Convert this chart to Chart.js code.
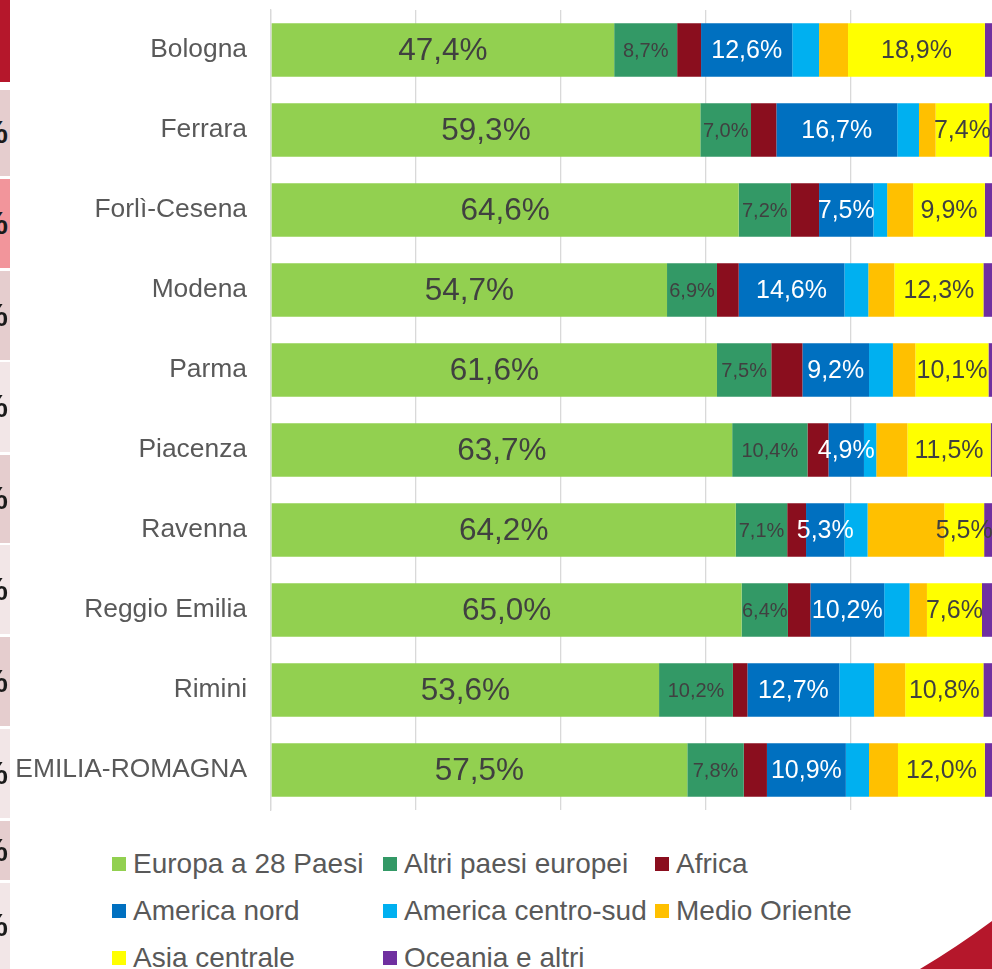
<!DOCTYPE html>
<html>
<head>
<meta charset="utf-8">
<script src="https://cdn.jsdelivr.net/npm/chart.js@4/dist/chart.umd.min.js"></script>
<style>
  html, body { margin: 0; padding: 0; background: #fff; overflow: hidden; width: 992px; height: 969px; }
  body { position: relative; font-family: "Liberation Sans", Arial, sans-serif; }
  #wrap { position: absolute; left: 0; top: 0; width: 1000px; height: 820px; }
  .strip { position: absolute; left: 0; width: 10px; overflow: hidden; }
  .strip span { position: absolute; right: 2px; top: 50%; transform: translateY(-52%); font: bold 32px "Liberation Sans", Arial, sans-serif; color: #1a1a1a; }
  #legend { position: absolute; left: 112px; top: 840px; display: grid; grid-template-columns: 271px 272px auto; grid-auto-rows: 47px; }
  .item { display: flex; align-items: center; color: #595959; font-size: 28px; white-space: nowrap; }
  .item i { display: inline-block; width: 14px; height: 14px; margin-right: 7px; }
  #corner { position: absolute; right: 0; bottom: 0; }
</style>
</head>
<body>
<div id="wrap"><canvas id="chart" width="1000" height="820"></canvas></div>
<div id="strips"></div>
<div id="legend"></div>
<svg id="corner" width="80" height="52" viewBox="0 0 80 52"><path d="M8,52 Q45,30 80,4 L80,52 Z" fill="#B5172B"/></svg>
<script>
// provinces
const categories = ["Bologna", "Ferrara", "Forlì-Cesena", "Modena", "Parma", "Piacenza",
  "Ravenna", "Reggio Emilia", "Rimini", "EMILIA-ROMAGNA"]

// share of each area (%)
const europa28   = [47.4, 59.3, 64.6, 54.7, 61.6, 63.7, 64.2, 65.0, 53.6, 57.5]
const altriEuropa = [8.7, 7.0, 7.2, 6.9, 7.5, 10.4, 7.1, 6.4, 10.2, 7.8]
const africa     = [3.3, 3.5, 3.9, 3.0, 4.3, 2.9, 2.6, 3.1, 2.0, 3.2]
const americaNord = [12.6, 16.7, 7.5, 14.6, 9.2, 4.9, 5.3, 10.2, 12.7, 10.9]
const americaSud = [3.7, 3.0, 1.9, 3.3, 3.3, 1.7, 3.2, 3.5, 4.8, 3.2]
const medioOriente = [4.0, 2.3, 3.6, 3.6, 3.1, 4.3, 10.6, 2.4, 4.3, 4.0]
const asiaCentrale = [18.9, 7.4, 9.9, 12.3, 10.1, 11.5, 5.5, 7.6, 10.8, 12.0]
const oceania    = [1.4, 0.8, 1.4, 1.6, 0.9, 0.6, 1.5, 1.8, 1.6, 1.4]

const seriesNames = ["Europa a 28 Paesi", "Altri paesi europei", "Africa", "America nord",
  "America centro-sud", "Medio Oriente", "Asia centrale", "Oceania e altri"]
const seriesValues = [europa28, altriEuropa, africa, americaNord, americaSud, medioOriente, asiaCentrale, oceania]
const seriesColors = ["#92D050", "#339966", "#8A0E1E", "#0070C0", "#00B0F0", "#FFC000", "#FFFF00", "#7030A0"]

// which series carry a value label: size + colour
const labelStyle = {
  0: { size: 31.5, color: "#404040" },
  1: { size: 20, color: "#404040" },
  3: { size: 25, color: "#FFFFFF" },
  6: { size: 25, color: "#404040" },
}

const fmt = (v) => v.toFixed(1).replace(".", ",") + "%"

const barLabels = {
  id: "barLabels",
  afterDatasetsDraw(chart) {
    const ctx = chart.ctx
    ctx.save()
    ctx.textAlign = "center"
    ctx.textBaseline = "middle"
    Object.keys(labelStyle).forEach((k) => {
      const i = +k
      const st = labelStyle[i]
      ctx.font = st.size + 'px "Liberation Sans", Arial, sans-serif'
      ctx.fillStyle = st.color
      chart.getDatasetMeta(i).data.forEach((bar, j) => {
        const p = bar.getProps(["x", "y", "base"], true)
        ctx.fillText(fmt(seriesValues[i][j]), (p.x + p.base) / 2, p.y + 1)
      })
    })
    ctx.restore()
  }
}

new Chart(document.getElementById("chart"), {
  type: "bar",
  data: {
    labels: categories,
    datasets: seriesNames.map((name, i) => ({
      label: name,
      data: seriesValues[i],
      backgroundColor: seriesColors[i],
      borderWidth: 0,
      categoryPercentage: 1,
      barPercentage: 0.67,
    })),
  },
  options: {
    indexAxis: "y",
    responsive: false,
    animation: false,
    layout: { padding: { top: 10, right: 5, left: 0, bottom: 0 } },
    plugins: { legend: { display: false }, tooltip: { enabled: false } },
    scales: {
      x: {
        stacked: true, min: 0, max: 100,
        ticks: { display: false, stepSize: 20 },
        grid: { color: "#D9D9D9", lineWidth: 1.3, drawTicks: false },
        border: { display: false },
        afterFit: (s) => { s.height = 10; s.paddingLeft = 0; s.paddingRight = 0 },
      },
      y: {
        stacked: true,
        ticks: { color: "#595959", padding: 24, font: { family: '"Liberation Sans", Arial, sans-serif', size: 26.4 } },
        grid: { display: false, drawTicks: false },
        border: { display: true, color: "#D9D9D9", width: 1.3 },
        afterFit: (s) => { s.width = 271; s.paddingTop = 0; s.paddingBottom = 0 },
      },
    },
  },
  plugins: [barLabels],
})

// legend, three aligned columns
const legend = document.getElementById("legend")
seriesNames.forEach((name, i) => {
  const d = document.createElement("div")
  d.className = "item"
  d.innerHTML = '<i style="background:' + seriesColors[i] + '"></i>' + name
  legend.appendChild(d)
})

// slide decoration on the left edge
const strips = [
  [0, 82, "#B5172B", false], [90, 176, "#E5CDCE", true], [179, 268, "#F2959B", true],
  [271, 360, "#E5CDCE", true], [362, 452, "#F2E6E7", true], [455, 543, "#E5CDCE", true],
  [545, 634, "#F2E6E7", true], [637, 726, "#E5CDCE", true], [729, 818, "#F2E6E7", true],
  [821, 880, "#E5CDCE", true], [883, 969, "#F2E6E7", true],
]
const sEl = document.getElementById("strips")
strips.forEach(([t, b, c, pct]) => {
  const d = document.createElement("div")
  d.className = "strip"
  d.style.top = t + "px"
  d.style.height = (b - t) + "px"
  d.style.background = c
  if (pct) d.innerHTML = "<span>%</span>"
  sEl.appendChild(d)
})
</script>
</body>
</html>
